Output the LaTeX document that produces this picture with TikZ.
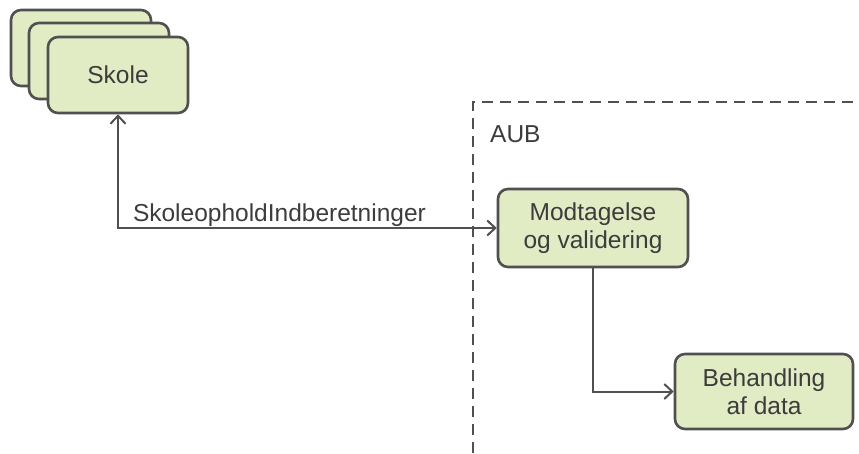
\documentclass[tikz,border=0pt]{standalone}
\usepackage{fontspec}
\setmainfont{Liberation Sans}
\usetikzlibrary{arrows.meta}
\definecolor{boxfill}{RGB}{225,235,196}
\definecolor{boxline}{RGB}{80,80,80}
\definecolor{txt}{RGB}{60,60,60}
\tikzset{
  procbox/.style={draw=boxline, line width=2.6pt, fill=boxfill, rounded corners=10pt,
    minimum width=140pt, minimum height=76pt, inner sep=0pt, align=center,
    text=txt, font=\fontsize{24.5}{28}\selectfont},
  conn/.style={draw=boxline, line width=2pt, {Straight Barb[length=8pt,width=15pt,line width=2pt]}-{Straight Barb[length=8pt,width=15pt,line width=2pt]}},
  connr/.style={draw=boxline, line width=2pt, -{Straight Barb[length=8pt,width=15pt,line width=2pt]}},
  lbl/.style={text=txt, font=\fontsize{24.5}{28}\selectfont, inner sep=0pt},
}
\begin{document}
\begin{tikzpicture}[x=1pt,y=-1pt]
\useasboundingbox (0,0) rectangle (859,453);
% dashed AUB region
\draw[boxline, line width=2pt, dash pattern=on 11pt off 7pt] (473,453) -- (473,102) -- (859,102);
\node[lbl, anchor=base west] (aub) at (490,142) {AUB};
% stacked Skole boxes
\node[procbox] (skole3) at (81,48) {};
\node[procbox] (skole2) at (99,61) {};
\node[procbox] (skole) at (118,75) {Skole};
\node[procbox, minimum width=190pt, minimum height=78pt] (modt) at (593,228) {Modtagelse\\og validering};
\node[procbox, minimum width=178pt, minimum height=75pt] (beh) at (764,391.5) {Behandling\\af data};
\draw[conn] (skole.south) |- node[lbl, pos=0.5, anchor=base west, xshift=14pt, yshift=7pt] (lab) {SkoleopholdIndberetninger} (modt.west);
\draw[connr] (modt.south) |- (beh.west);
\end{tikzpicture}
\end{document}
